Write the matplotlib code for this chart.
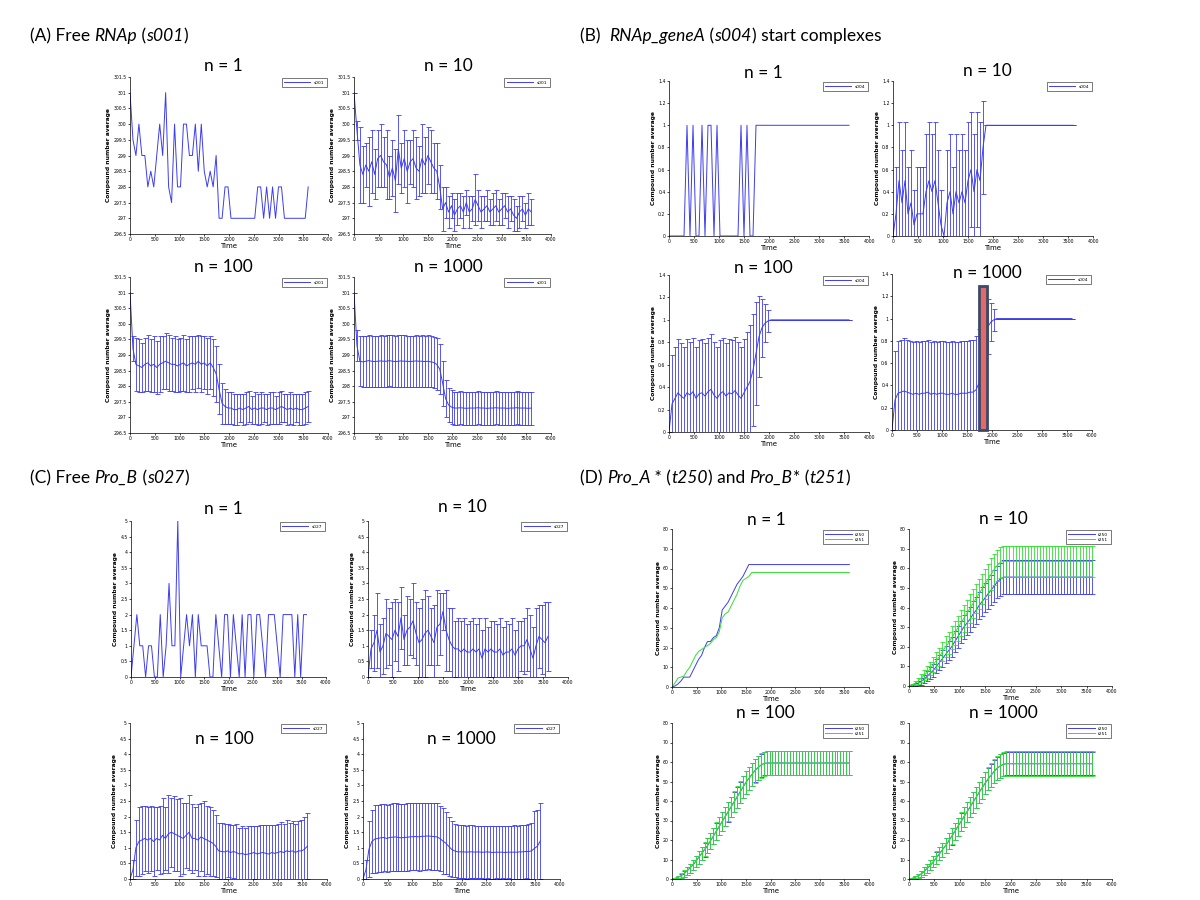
import matplotlib
matplotlib.use("Agg")
import matplotlib.pyplot as plt
from matplotlib.patches import Rectangle
from matplotlib.ticker import FormatStrFormatter
import numpy as np

# sampling times (s)
time = list(range(0, 3601, 60))

# ---- (A) free RNAp, s001 ----
a1 = [301, 299.5, 299, 300, 299, 299, 298, 298.5, 298, 299,
      300, 299, 301, 298, 297.5, 300, 298, 298, 300, 300,
      299, 299, 300, 298.5, 300, 298.5, 298, 298.5, 298, 299,
      297, 297, 298, 298, 297, 297, 297, 297, 297, 297,
      297, 297, 297, 298, 298, 297, 298, 297, 298, 297,
      298, 298, 297, 297, 297, 297, 297, 297, 297, 297, 298]
a10_mean = [301.0, 299.8, 298.7, 298.4, 298.7, 298.5, 298.8, 298.4, 298.9, 299.0,
            298.8, 298.7, 298.3, 298.6, 298.2, 299.2, 298.6, 298.9, 298.5, 298.8,
            298.9, 298.6, 298.5, 298.9, 298.7, 299.0, 298.8, 298.6, 298.5, 298.0,
            297.3, 297.5, 297.2, 297.4, 297.1, 297.3, 297.4, 297.2, 297.5, 297.2,
            297.3, 297.6, 297.4, 297.2, 297.3, 297.4, 297.2, 297.3, 297.4, 297.2,
            297.3, 297.4, 297.2, 297.3, 297.1, 297.0, 297.2, 297.3, 297.1, 297.3, 297.2]
a10_std = [0.0, 0.3, 1.2, 0.9, 0.7, 1.1, 1.0, 0.8, 0.9, 1.0,
           0.8, 1.1, 0.7, 0.9, 1.0, 1.1, 0.8, 0.9, 1.0, 0.7,
           0.9, 1.0, 0.8, 1.1, 0.9, 0.9, 1.0, 0.8, 0.9, 0.7,
           0.7, 0.5, 0.5, 0.4, 0.5, 0.5, 0.4, 0.5, 0.4, 0.5,
           0.4, 0.8, 0.5, 0.5, 0.4, 0.5, 0.4, 0.5, 0.5, 0.4,
           0.5, 0.4, 0.5, 0.4, 0.5, 0.4, 0.5, 0.4, 0.4, 0.5, 0.4]
a100_mean = [301.0, 299.2, 298.7, 298.65, 298.6, 298.7, 298.75, 298.65, 298.7, 298.6,
             298.7, 298.75, 298.8, 298.75, 298.7, 298.7, 298.65, 298.7, 298.75, 298.65,
             298.7, 298.75, 298.7, 298.8, 298.7, 298.75, 298.65, 298.75, 298.6, 298.4,
             297.9, 297.45, 297.35, 297.3, 297.3, 297.25, 297.25, 297.3, 297.25, 297.3,
             297.35, 297.25, 297.3, 297.25, 297.3, 297.3, 297.25, 297.3, 297.3, 297.25,
             297.3, 297.35, 297.3, 297.25, 297.3, 297.25, 297.3, 297.25, 297.25, 297.3, 297.35]
a100_std = [0.0, 0.4, 0.85, 0.85, 0.8, 0.85, 0.9, 0.85, 0.9, 0.85,
            0.9, 0.85, 0.9, 0.9, 0.85, 0.9, 0.85, 0.85, 0.9, 0.85,
            0.9, 0.85, 0.9, 0.85, 0.9, 0.85, 0.9, 0.85, 0.9, 0.9,
            0.8, 0.65, 0.55, 0.5, 0.5, 0.5, 0.5, 0.45, 0.5, 0.5,
            0.5, 0.45, 0.5, 0.5, 0.5, 0.45, 0.5, 0.5, 0.5, 0.45,
            0.5, 0.5, 0.45, 0.5, 0.5, 0.5, 0.45, 0.5, 0.5, 0.5, 0.5]
a1000_mean = [301.0, 299.3, 298.8, 298.78, 298.8, 298.82, 298.8, 298.79, 298.8, 298.81,
              298.8, 298.8, 298.82, 298.8, 298.79, 298.8, 298.81, 298.8, 298.8, 298.79,
              298.8, 298.81, 298.8, 298.8, 298.79, 298.8, 298.78, 298.76, 298.7, 298.55,
              298.1, 297.6, 297.4, 297.33, 297.3, 297.3, 297.31, 297.3, 297.29, 297.3,
              297.3, 297.3, 297.31, 297.3, 297.3, 297.29, 297.3, 297.3, 297.31, 297.3,
              297.3, 297.3, 297.29, 297.3, 297.3, 297.31, 297.3, 297.3, 297.3, 297.29, 297.3]
a1000_std = [0.0, 0.5, 0.8, 0.82, 0.82, 0.83, 0.82, 0.83, 0.82, 0.83,
             0.82, 0.83, 0.82, 0.83, 0.82, 0.83, 0.82, 0.83, 0.82, 0.83,
             0.82, 0.83, 0.82, 0.83, 0.82, 0.83, 0.82, 0.83, 0.83, 0.8,
             0.72, 0.6, 0.55, 0.54, 0.53, 0.53, 0.53, 0.53, 0.53, 0.53,
             0.53, 0.53, 0.53, 0.53, 0.53, 0.53, 0.53, 0.53, 0.53, 0.53,
             0.53, 0.53, 0.53, 0.53, 0.53, 0.53, 0.53, 0.53, 0.53, 0.53, 0.53]

# ---- (B) RNAp_geneA start complexes, s004 ----
b1 = [0, 0, 0, 0, 0, 0, 1, 0, 1, 0,
      0, 1, 0, 1, 1, 0, 1, 0, 0, 0,
      0, 0, 0, 0, 1, 0, 1, 0, 0, 1,
      1, 1, 1, 1, 1, 1, 1, 1, 1, 1,
      1, 1, 1, 1, 1, 1, 1, 1, 1, 1,
      1, 1, 1, 1, 1, 1, 1, 1, 1, 1, 1]
b10_mean = [0.0, 0.2, 0.5, 0.3, 0.5, 0.2, 0.3, 0.1, 0.2, 0.2,
            0.2, 0.4, 0.5, 0.4, 0.5, 0.3, 0.1, 0.0, 0.3, 0.4,
            0.2, 0.4, 0.3, 0.4, 0.3, 0.5, 0.6, 0.4, 0.6, 0.5,
            0.8, 1.0, 1.0, 1.0, 1.0, 1.0, 1.0, 1.0, 1.0, 1.0,
            1.0, 1.0, 1.0, 1.0, 1.0, 1.0, 1.0, 1.0, 1.0, 1.0,
            1.0, 1.0, 1.0, 1.0, 1.0, 1.0, 1.0, 1.0, 1.0, 1.0, 1.0]
b10_std = [0.0, 0.42, 0.53, 0.48, 0.53, 0.42, 0.48, 0.32, 0.42, 0.42,
           0.42, 0.52, 0.53, 0.52, 0.53, 0.48, 0.32, 0.0, 0.48, 0.52,
           0.42, 0.52, 0.48, 0.52, 0.48, 0.53, 0.52, 0.52, 0.52, 0.53,
           0.42, 0, 0, 0, 0, 0, 0, 0, 0, 0,
           0, 0, 0, 0, 0, 0, 0, 0, 0, 0,
           0, 0, 0, 0, 0, 0, 0, 0, 0, 0, 0]
b100_mean = [0.0, 0.25, 0.3, 0.35, 0.32, 0.3, 0.35, 0.33, 0.36, 0.3,
             0.34, 0.35, 0.32, 0.36, 0.38, 0.33, 0.3, 0.34, 0.36, 0.32,
             0.35, 0.34, 0.37, 0.33, 0.3, 0.35, 0.4, 0.45, 0.55, 0.7,
             0.85, 0.93, 0.97, 0.99, 1.0, 1.0, 1.0, 1.0, 1.0, 1.0,
             1.0, 1.0, 1.0, 1.0, 1.0, 1.0, 1.0, 1.0, 1.0, 1.0,
             1.0, 1.0, 1.0, 1.0, 1.0, 1.0, 1.0, 1.0, 1.0, 1.0, 1.0]
b100_std = [0.0, 0.44, 0.46, 0.48, 0.47, 0.46, 0.48, 0.47, 0.48, 0.46,
            0.48, 0.48, 0.47, 0.48, 0.49, 0.47, 0.46, 0.48, 0.48, 0.47,
            0.48, 0.48, 0.48, 0.47, 0.46, 0.48, 0.49, 0.5, 0.5, 0.46,
            0.36, 0.26, 0.17, 0.1, 0, 0, 0, 0, 0, 0,
            0, 0, 0, 0, 0, 0, 0, 0, 0, 0,
            0, 0, 0, 0, 0, 0, 0, 0, 0, 0, 0]
b1000_mean = [0.0, 0.27, 0.33, 0.34, 0.35, 0.34, 0.33, 0.32, 0.33, 0.32,
              0.33, 0.33, 0.34, 0.32, 0.33, 0.32, 0.33, 0.33, 0.32, 0.32,
              0.33, 0.32, 0.32, 0.33, 0.33, 0.33, 0.34, 0.34, 0.36, 0.42,
              0.62, 0.85, 0.93, 0.97, 0.99, 1.0, 1.0, 1.0, 1.0, 1.0,
              1.0, 1.0, 1.0, 1.0, 1.0, 1.0, 1.0, 1.0, 1.0, 1.0,
              1.0, 1.0, 1.0, 1.0, 1.0, 1.0, 1.0, 1.0, 1.0, 1.0, 1.0]
b1000_std = [0.0, 0.44, 0.47, 0.47, 0.48, 0.47, 0.47, 0.47, 0.47, 0.47,
             0.47, 0.47, 0.47, 0.47, 0.47, 0.47, 0.47, 0.47, 0.47, 0.47,
             0.47, 0.47, 0.47, 0.47, 0.47, 0.47, 0.47, 0.47, 0.48, 0.49,
             0.49, 0.36, 0.25, 0.17, 0.1, 0, 0, 0, 0, 0,
             0, 0, 0, 0, 0, 0, 0, 0, 0, 0,
             0, 0, 0, 0, 0, 0, 0, 0, 0, 0, 0]

# ---- (C) free Pro_B, s027 ----
c1 = [0, 1, 2, 1, 1, 0, 1, 1, 0, 0,
      2, 0, 1, 3, 1, 1, 5, 0, 1, 2,
      1, 2, 0, 2, 1, 1, 1, 0, 0, 2,
      1, 0, 2, 2, 0, 2, 1, 0, 2, 0,
      2, 2, 0, 2, 2, 1, 0, 2, 2, 2,
      1, 0, 2, 2, 2, 2, 0, 2, 0, 2, 2]
c10_mean = [0.0, 0.9, 1.1, 1.5, 0.8, 1.0, 1.4, 1.3, 1.2, 1.5,
            1.3, 1.9, 1.2, 1.5, 1.6, 1.8, 1.4, 1.1, 1.2, 1.4,
            1.5, 1.3, 1.1, 1.6, 1.7, 2.1, 1.5, 1.2, 1.0, 0.9,
            0.9, 0.8, 0.9, 0.8, 0.8, 0.9, 0.8, 0.9, 0.6, 0.9,
            0.8, 0.9, 0.8, 0.8, 0.9, 0.7, 0.8, 0.8, 0.9, 0.7,
            0.9, 1.0, 1.0, 1.2, 0.9, 0.6, 1.0, 1.3, 1.2, 1.1, 1.3]
c10_std = [0.0, 0.6, 0.9, 1.2, 0.9, 0.9, 1.1, 0.9, 1.2, 1.0,
           1.1, 1.0, 0.8, 1.1, 0.9, 1.2, 1.0, 1.1, 1.3, 1.4,
           1.1, 0.9, 1.2, 1.2, 1.0, 0.6, 1.3, 1.0, 1.2, 0.9,
           1.0, 1.0, 1.0, 0.9, 1.0, 1.0, 0.9, 1.0, 0.9, 1.0,
           0.8, 0.9, 1.0, 0.9, 1.0, 0.9, 1.0, 0.9, 1.0, 0.8,
           0.9, 0.8, 0.9, 1.0, 1.1, 1.0, 1.2, 1.0, 1.1, 1.3, 1.1]
c100_mean = [0.0, 0.3, 1.0, 1.2, 1.25, 1.3, 1.25, 1.3, 1.2, 1.3,
             1.25, 1.4, 1.3, 1.45, 1.5, 1.45, 1.4, 1.35, 1.3, 1.4,
             1.5, 1.3, 1.3, 1.25, 1.35, 1.3, 1.25, 1.2, 1.15, 1.05,
             0.9, 0.88, 0.87, 0.9, 0.85, 0.88, 0.85, 0.8, 0.82, 0.78,
             0.8, 0.82, 0.85, 0.8, 0.83, 0.85, 0.82, 0.8, 0.85, 0.82,
             0.85, 0.88, 0.85, 0.9, 0.88, 0.9, 0.85, 0.9, 0.9, 0.95, 1.05]
c100_std = [0.0, 0.3, 0.9, 1.1, 1.1, 1.05, 1.05, 1.05, 1.1, 1.0,
            1.1, 1.2, 1.0, 1.25, 1.1, 1.2, 1.15, 1.25, 1.15, 1.05,
            1.2, 1.1, 1.0, 1.15, 1.1, 1.2, 1.1, 1.1, 1.05, 1.0,
            0.9, 0.9, 0.88, 0.85, 0.88, 0.85, 0.9, 0.85, 0.88, 0.85,
            0.9, 0.88, 0.85, 0.9, 0.9, 0.88, 0.9, 0.92, 0.88, 0.9,
            0.92, 0.95, 0.9, 1.0, 0.92, 0.95, 0.9, 0.95, 1.0, 1.05, 1.05]
c1000_mean = [0.0, 0.3, 0.95, 1.2, 1.28, 1.3, 1.32, 1.33, 1.3, 1.33,
              1.34, 1.35, 1.33, 1.32, 1.33, 1.34, 1.35, 1.36, 1.36, 1.35,
              1.37, 1.37, 1.38, 1.37, 1.36, 1.35, 1.3, 1.22, 1.15, 1.05,
              0.95, 0.9, 0.87, 0.87, 0.87, 0.86, 0.87, 0.87, 0.86, 0.87,
              0.86, 0.86, 0.87, 0.86, 0.85, 0.86, 0.86, 0.86, 0.85, 0.86,
              0.86, 0.86, 0.86, 0.87, 0.87, 0.88, 0.88, 0.9, 0.98, 1.05, 1.22]
c1000_std = [0.0, 0.3, 0.9, 1.0, 1.08, 1.08, 1.08, 1.08, 1.07, 1.08,
             1.08, 1.1, 1.08, 1.07, 1.08, 1.08, 1.07, 1.08, 1.08, 1.08,
             1.07, 1.08, 1.07, 1.08, 1.08, 1.07, 1.05, 1.05, 1.0, 0.95,
             0.9, 0.85, 0.85, 0.85, 0.85, 0.85, 0.85, 0.85, 0.84, 0.84,
             0.84, 0.85, 0.84, 0.85, 0.85, 0.84, 0.85, 0.84, 0.85, 0.84,
             0.85, 0.86, 0.85, 0.86, 0.86, 0.86, 0.87, 0.9, 1.2, 1.15, 1.22]

# ---- (D) Pro_A* (t250) and Pro_B* (t251) ----
d1_t250 = [0, 0.5, 1.5, 3, 5, 5, 5, 8, 11, 14,
           16, 20, 23, 23, 25, 26, 30, 39, 41, 43,
           46, 49, 52, 54, 56, 59, 62, 62, 62, 62,
           62, 62, 62, 62, 62, 62, 62, 62, 62, 62,
           62, 62, 62, 62, 62, 62, 62, 62, 62, 62,
           62, 62, 62, 62, 62, 62, 62, 62, 62, 62, 62]
d1_t251 = [0, 2, 4.5, 5, 5.5, 8, 10, 13, 16, 18,
           19, 20, 21, 22, 24, 25, 28, 35, 37, 38,
           41, 44, 47, 51, 54, 55, 56, 58, 58, 58,
           58, 58, 58, 58, 58, 58, 58, 58, 58, 58,
           58, 58, 58, 58, 58, 58, 58, 58, 58, 58,
           58, 58, 58, 58, 58, 58, 58, 58, 58, 58, 58]
d10_t250_mean = [0, 0.3, 0.8, 1.5, 2.5, 3.5, 5, 6.5, 8, 10,
                 12, 14, 16, 18, 20, 22.5, 25, 27.5, 30, 32,
                 34, 36.5, 38.5, 41, 43, 45, 47, 49, 51, 53,
                 54.5, 55.5, 55.5, 55.5, 55.5, 55.5, 55.5, 55.5, 55.5, 55.5,
                 55.5, 55.5, 55.5, 55.5, 55.5, 55.5, 55.5, 55.5, 55.5, 55.5,
                 55.5, 55.5, 55.5, 55.5, 55.5, 55.5, 55.5, 55.5, 55.5, 55.5, 55.5]
d10_t250_std = [0, 0.3, 0.8, 1.2, 1.8, 2.2, 2.7, 3, 3.3, 3.6,
                4, 4.3, 4.5, 4.8, 5, 5.3, 5.5, 5.8, 6, 6.2,
                6.4, 6.6, 6.8, 7, 7.2, 7.4, 7.6, 7.8, 8, 8.2,
                8.4, 8.5, 8.5, 8.5, 8.5, 8.5, 8.5, 8.5, 8.5, 8.5,
                8.5, 8.5, 8.5, 8.5, 8.5, 8.5, 8.5, 8.5, 8.5, 8.5,
                8.5, 8.5, 8.5, 8.5, 8.5, 8.5, 8.5, 8.5, 8.5, 8.5, 8.5]
d10_t251_mean = [0, 0.5, 1.3, 2.5, 4, 5.5, 7, 9, 11, 13,
                 15, 17.5, 20, 22, 24.5, 27, 29.5, 32, 34.5, 37,
                 39.5, 42, 44.5, 47, 49.5, 52, 54.5, 57, 59.5, 61.5,
                 63, 63.5, 63.5, 63.5, 63.5, 63.5, 63.5, 63.5, 63.5, 63.5,
                 63.5, 63.5, 63.5, 63.5, 63.5, 63.5, 63.5, 63.5, 63.5, 63.5,
                 63.5, 63.5, 63.5, 63.5, 63.5, 63.5, 63.5, 63.5, 63.5, 63.5, 63.5]
d10_t251_std = [0, 0.5, 1, 1.5, 2, 2.5, 3, 3.4, 3.8, 4.2,
                4.6, 5, 5.3, 5.6, 5.9, 6.2, 6.4, 6.6, 6.8, 7,
                7.2, 7.4, 7.5, 7.6, 7.7, 7.8, 7.9, 8, 8, 8,
                8, 8, 8, 8, 8, 8, 8, 8, 8, 8,
                8, 8, 8, 8, 8, 8, 8, 8, 8, 8,
                8, 8, 8, 8, 8, 8, 8, 8, 8, 8, 8]
d100_t250_mean = [0, 0.3, 0.8, 1.6, 2.7, 4, 5.5, 7, 9, 11,
                  13, 15, 17, 19.5, 22, 24.5, 27, 29.5, 32, 34.5,
                  37, 39.5, 42, 44.5, 47, 49.5, 51.5, 53.5, 55.5, 57,
                  58.3, 59.2, 59.5, 59.5, 59.5, 59.5, 59.5, 59.5, 59.5, 59.5,
                  59.5, 59.5, 59.5, 59.5, 59.5, 59.5, 59.5, 59.5, 59.5, 59.5,
                  59.5, 59.5, 59.5, 59.5, 59.5, 59.5, 59.5, 59.5, 59.5, 59.5, 59.5]
d100_t250_std = [0, 0.4, 0.8, 1.2, 1.6, 2, 2.3, 2.6, 2.9, 3.2,
                 3.4, 3.6, 3.8, 4, 4.2, 4.4, 4.6, 4.8, 5, 5.1,
                 5.2, 5.3, 5.4, 5.5, 5.6, 5.7, 5.8, 5.9, 6, 6,
                 6, 6, 6, 6, 6, 6, 6, 6, 6, 6,
                 6, 6, 6, 6, 6, 6, 6, 6, 6, 6,
                 6, 6, 6, 6, 6, 6, 6, 6, 6, 6, 6]
d100_t251_mean = [0, 0.3, 0.9, 1.7, 2.8, 4.1, 5.6, 7.2, 9.1, 11.1,
                  13.1, 15.2, 17.2, 19.6, 22.1, 24.6, 27.1, 29.6, 32.1, 34.6,
                  37.1, 39.6, 42.1, 44.6, 47.1, 49.5, 51.5, 53.5, 55.4, 56.9,
                  58.2, 59.1, 59.4, 59.4, 59.4, 59.4, 59.4, 59.4, 59.4, 59.4,
                  59.4, 59.4, 59.4, 59.4, 59.4, 59.4, 59.4, 59.4, 59.4, 59.4,
                  59.4, 59.4, 59.4, 59.4, 59.4, 59.4, 59.4, 59.4, 59.4, 59.4, 59.4]
d100_t251_std = [0, 0.4, 0.8, 1.2, 1.6, 2, 2.3, 2.6, 2.9, 3.2,
                 3.4, 3.6, 3.8, 4, 4.2, 4.4, 4.6, 4.8, 5, 5.1,
                 5.2, 5.4, 5.5, 5.6, 5.7, 5.8, 5.9, 6, 6.1, 6.2,
                 6.2, 6.2, 6.2, 6.2, 6.2, 6.2, 6.2, 6.2, 6.2, 6.2,
                 6.2, 6.2, 6.2, 6.2, 6.2, 6.2, 6.2, 6.2, 6.2, 6.2,
                 6.2, 6.2, 6.2, 6.2, 6.2, 6.2, 6.2, 6.2, 6.2, 6.2, 6.2]
d1000_t250_mean = [0, 0.3, 0.8, 1.6, 2.6, 3.9, 5.4, 7, 8.9, 10.9,
                   12.9, 15, 17.1, 19.4, 21.8, 24.3, 26.8, 29.3, 31.8, 34.3,
                   36.8, 39.3, 41.8, 44.3, 46.7, 49.1, 51.3, 53.3, 55.2, 56.8,
                   58, 58.8, 59.1, 59.1, 59.1, 59.1, 59.1, 59.1, 59.1, 59.1,
                   59.1, 59.1, 59.1, 59.1, 59.1, 59.1, 59.1, 59.1, 59.1, 59.1,
                   59.1, 59.1, 59.1, 59.1, 59.1, 59.1, 59.1, 59.1, 59.1, 59.1, 59.1]
d1000_t251_mean = [0, 0.3, 0.8, 1.6, 2.7, 4, 5.5, 7.1, 9, 11,
                   13, 15.1, 17.2, 19.5, 21.9, 24.4, 26.9, 29.4, 31.9, 34.4,
                   36.9, 39.4, 41.9, 44.4, 46.8, 49.2, 51.4, 53.4, 55.3, 56.9,
                   58.1, 58.9, 59.2, 59.2, 59.2, 59.2, 59.2, 59.2, 59.2, 59.2,
                   59.2, 59.2, 59.2, 59.2, 59.2, 59.2, 59.2, 59.2, 59.2, 59.2,
                   59.2, 59.2, 59.2, 59.2, 59.2, 59.2, 59.2, 59.2, 59.2, 59.2, 59.2]
d1000_t250_std = d100_t250_std
d1000_t251_std = d100_t251_std

BLUE = "#3c3cf0"
GREEN = "#30e030"
W, H = 1200, 900

fig = plt.figure(figsize=(12, 9), dpi=100)
renderer = fig.canvas.get_renderer()


def make_axes(box, ylim, ystep):
    # box = left, top, right, bottom in pixels
    l, t, r, b = box
    ax = fig.add_axes([l / W, 1 - b / H, (r - l) / W, (b - t) / H])
    ax.set_xlim(0, 4000)
    ax.set_xticks(range(0, 4001, 500))
    ax.set_ylim(*ylim)
    ax.set_yticks(np.arange(ylim[0], ylim[1] + ystep / 2, ystep))
    ax.yaxis.set_major_formatter(FormatStrFormatter("%g"))
    ax.tick_params(labelsize=3.3, length=1.5, width=0.5, pad=1)
    for s in ["top", "right"]:
        ax.spines[s].set_visible(False)
    for s in ["left", "bottom"]:
        ax.spines[s].set_linewidth(0.5)
    ax.set_xlabel("Time", fontsize=5, labelpad=0.5)
    ax.set_ylabel("Compound number average", fontsize=4.3, labelpad=1.5, fontweight="bold")
    return ax


def add_legend(ax):
    leg = ax.legend(loc="upper right", fontsize=3.2, handlelength=6, borderpad=0.5,
                    fancybox=False, framealpha=1, borderaxespad=0.3, labelspacing=0.2)
    leg.get_frame().set_edgecolor("#444444")
    leg.get_frame().set_linewidth(0.5)


def err_series(ax, mean, std, color, label):
    ax.errorbar(time, mean, yerr=std, fmt="none", ecolor=color, elinewidth=0.6,
                capsize=1.8, capthick=0.6)
    ax.plot(time, mean, color=color, lw=0.7, label=label)


def title(x, y, txt):
    fig.text(x / W, 1 - y / H, txt, ha="center", va="center", fontsize=12.5, family="Lato")


def header(x, y, parts):
    # parts: list of (text, italic) pieces written one after another
    for txt, it in parts:
        t = fig.text(x / W, 1 - y / H, txt, ha="left", va="center", fontsize=12.5,
                     family="Lato", style="italic" if it else "normal")
        x += t.get_window_extent(renderer).width


header(30, 36, [("(A) Free ", False), ("RNAp", True), (" (", False), ("s001", True), (")", False)])
header(580, 36, [("(B)  ", False), ("RNAp_geneA", True), (" (", False), ("s004", True),
                 (") start complexes", False)])
header(30, 478, [("(C) Free ", False), ("Pro_B", True), (" (", False), ("s027", True), (")", False)])
header(580, 478, [("(D) ", False), ("Pro_A", True), (" * (", False), ("t250", True),
                  (") and ", False), ("Pro_B", True), ("* (", False), ("t251", True), (")", False)])

# (A)
ax = make_axes((130, 77, 328, 234), (296.5, 301.5), 0.5)
ax.plot(time, a1, color=BLUE, lw=0.7, label="s001")
add_legend(ax)
title(223, 66, "n = 1")
ax = make_axes((354, 77, 551, 234), (296.5, 301.5), 0.5)
err_series(ax, a10_mean, a10_std, BLUE, "s001")
add_legend(ax)
title(448, 66, "n = 10")
ax = make_axes((130, 277, 328, 433), (296.5, 301.5), 0.5)
err_series(ax, a100_mean, a100_std, BLUE, "s001")
add_legend(ax)
title(223, 267, "n = 100")
ax = make_axes((354, 277, 551, 433), (296.5, 301.5), 0.5)
err_series(ax, a1000_mean, a1000_std, BLUE, "s001")
add_legend(ax)
title(448, 267, "n = 1000")

# (B)
ax = make_axes((669, 81, 869, 236), (0, 1.4), 0.2)
ax.plot(time, b1, color=BLUE, lw=0.7, label="s004")
add_legend(ax)
title(763, 73, "n = 1")
ax = make_axes((893, 81, 1093, 236), (0, 1.4), 0.2)
err_series(ax, b10_mean, b10_std, BLUE, "s004")
add_legend(ax)
title(987, 71, "n = 10")
ax = make_axes((669, 275, 869, 432), (0, 1.4), 0.2)
err_series(ax, b100_mean, b100_std, BLUE, "s004")
add_legend(ax)
title(763, 268, "n = 100")
ax = make_axes((892, 274, 1092, 430), (0, 1.4), 0.2)
err_series(ax, b1000_mean, b1000_std, BLUE, "s004")
add_legend(ax)
ax.add_patch(Rectangle((1740, 0), 160, 1.29, facecolor="#e46a6a", edgecolor="#3c4a68",
                       lw=2, clip_on=False, zorder=5))
title(987, 273, "n = 1000")

# (C)
ax = make_axes((131, 521, 326, 677), (0, 5), 0.5)
ax.plot(time, c1, color=BLUE, lw=0.7, label="s027")
add_legend(ax)
title(223, 509, "n = 1")
ax = make_axes((368, 521, 568, 677), (0, 5), 0.5)
err_series(ax, c10_mean, c10_std, BLUE, "s027")
add_legend(ax)
title(462, 507, "n = 10")
ax = make_axes((130, 723, 327, 879), (0, 5), 0.5)
err_series(ax, c100_mean, c100_std, BLUE, "s027")
add_legend(ax)
title(224, 739, "n = 100")
ax = make_axes((363, 723, 560, 879), (0, 5), 0.5)
err_series(ax, c1000_mean, c1000_std, BLUE, "s027")
add_legend(ax)
title(461, 739, "n = 1000")

# (D)
ax = make_axes((672, 529, 869, 687), (0, 80), 10)
ax.plot(time, d1_t250, color=BLUE, lw=0.7, label="t250")
ax.plot(time, d1_t251, color=GREEN, lw=0.7, label="t251")
add_legend(ax)
title(766, 520, "n = 1")
ax = make_axes((909, 529, 1112, 686), (0, 80), 10)
err_series(ax, d10_t250_mean, d10_t250_std, BLUE, "t250")
err_series(ax, d10_t251_mean, d10_t251_std, GREEN, "t251")
add_legend(ax)
title(1003, 519, "n = 10")
ax = make_axes((672, 723, 869, 879), (0, 80), 10)
err_series(ax, d100_t250_mean, d100_t250_std, BLUE, "t250")
err_series(ax, d100_t251_mean, d100_t251_std, GREEN, "t251")
add_legend(ax)
title(765, 713, "n = 100")
ax = make_axes((909, 723, 1112, 879), (0, 80), 10)
err_series(ax, d1000_t250_mean, d1000_t250_std, BLUE, "t250")
err_series(ax, d1000_t251_mean, d1000_t251_std, GREEN, "t251")
add_legend(ax)
title(1003, 713, "n = 1000")

fig.savefig("out.png", dpi=100)
